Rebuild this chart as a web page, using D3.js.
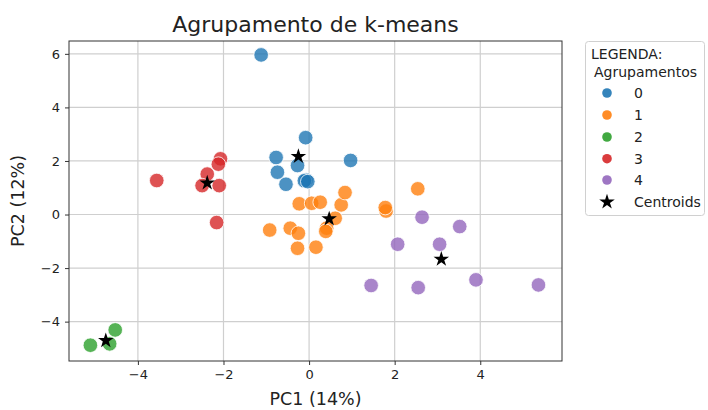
<!DOCTYPE html>
<html>
<head>
<meta charset="utf-8">
<script src="https://cdn.jsdelivr.net/npm/d3@7"></script>
<style>
  body { margin: 0; background: #fff; }
  svg { font-family: "DejaVu Sans", sans-serif; }
</style>
</head>
<body>
<svg id="chart" width="708" height="410"></svg>
<script>
// ---- data ----
const clusters = ["0", "1", "2", "3", "4"];
const colors = ["#1f77b4", "#ff7f0e", "#2ca02c", "#d62728", "#9467bd"];
const pc1 = [
  // cluster 0
  -1.12, -0.08, -0.77, -0.27, -0.74, -0.54, -0.07, -0.11, -0.03, 0.97,
  // cluster 1
  -0.23, 0.06, 0.26, 0.75, 0.84, 0.61, 0.41, 0.39, -0.92, -0.44, -0.25, -0.27, 0.16, 2.54, 1.80, 1.78,
  // cluster 2
  -5.11, -4.66, -4.53,
  // cluster 3
  -3.56, -2.07, -2.12, -2.38, -2.50, -2.10, -2.16,
  // cluster 4
  2.64, 3.52, 2.07, 3.05, 3.90, 1.45, 2.55, 5.36
];
const pc2 = [
  5.96, 2.87, 2.13, 1.83, 1.58, 1.13, 1.29, 1.26, 1.23, 2.02,
  0.40, 0.42, 0.46, 0.36, 0.82, -0.14, -0.51, -0.63, -0.58, -0.51, -0.70, -1.26, -1.22, 0.96, 0.13, 0.26,
  -4.88, -4.83, -4.31,
  1.27, 2.08, 1.88, 1.51, 1.08, 1.08, -0.30,
  -0.10, -0.45, -1.11, -1.11, -2.44, -2.65, -2.73, -2.63
];
const labels = [
  0,0,0,0,0,0,0,0,0,0,
  1,1,1,1,1,1,1,1,1,1,1,1,1,1,1,1,
  2,2,2,
  3,3,3,3,3,3,3,
  4,4,4,4,4,4,4,4
];
const centroidX = [-0.25, 0.47, -4.75, -2.38, 3.09];
const centroidY = [2.17, -0.16, -4.71, 1.18, -1.67];
const xTicks = [-4, -2, 0, 2, 4];
const yTicks = [-4, -2, 0, 2, 4, 6];

// ---- layout ----
const svg = d3.select("#chart");
const L = 69, R = 562, T = 41, B = 361;
const x = d3.scaleLinear().domain([-5.61, 5.91]).range([L, R]);
const y = d3.scaleLinear().domain([-5.47, 6.48]).range([B, T]);

// grid
const g = svg.append("g");
g.selectAll(".vg").data(xTicks).join("line")
  .attr("x1", d => x(d)).attr("x2", d => x(d)).attr("y1", T).attr("y2", B)
  .attr("stroke", "#cfcfcf").attr("stroke-width", 1.2);
g.selectAll(".hg").data(yTicks).join("line")
  .attr("y1", d => y(d)).attr("y2", d => y(d)).attr("x1", L).attr("x2", R)
  .attr("stroke", "#cfcfcf").attr("stroke-width", 1.2);

// axes
const fmt = d => (d < 0 ? "\u2212" + Math.abs(d) : String(d));
const xAxis = svg.append("g").attr("transform", `translate(0,${B})`)
  .call(d3.axisBottom(x).tickValues(xTicks).tickFormat(fmt).tickSizeOuter(0).tickSize(4).tickPadding(5));
const yAxis = svg.append("g").attr("transform", `translate(${L},0)`)
  .call(d3.axisLeft(y).tickValues(yTicks).tickFormat(fmt).tickSizeOuter(0).tickSize(4).tickPadding(5));
[xAxis, yAxis].forEach(a => {
  a.select(".domain").remove();
  a.selectAll("line").attr("stroke", "#333");
  a.selectAll("text").attr("font-family", "DejaVu Sans").attr("font-size", 13).attr("fill", "#222");
});

// points
const pts = pc1.map((v, i) => ({ x: v, y: pc2[i], c: labels[i] }));
svg.append("g").selectAll("circle").data(pts).join("circle")
  .attr("cx", d => x(d.x)).attr("cy", d => y(d.y)).attr("r", 7.3)
  .attr("fill", d => colors[d.c]).attr("fill-opacity", 0.8)
  .attr("stroke", "#fff").attr("stroke-width", 0.8);

// centroids
const star = d3.symbol().type(d3.symbolStar).size(75);
svg.append("g").selectAll("path").data(centroidX.map((v, i) => ({ x: v, y: centroidY[i] })))
  .join("path")
  .attr("d", star)
  .attr("transform", d => `translate(${x(d.x)},${y(d.y)})`)
  .attr("fill", "#000");

// frame
svg.append("rect").attr("x", L).attr("y", T).attr("width", R - L).attr("height", B - T)
  .attr("fill", "none").attr("stroke", "#333").attr("stroke-width", 1);

// title & labels
svg.append("text").attr("x", (L + R) / 2).attr("y", 32).attr("text-anchor", "middle")
  .attr("font-size", 22).attr("fill", "#222").text("Agrupamento de k-means");
svg.append("text").attr("x", (L + R) / 2).attr("y", 405).attr("text-anchor", "middle")
  .attr("font-size", 17.5).attr("fill", "#222").text("PC1 (14%)");
svg.append("text").attr("transform", `translate(24,${(T + B) / 2}) rotate(-90)`).attr("text-anchor", "middle")
  .attr("font-size", 17.5).attr("fill", "#222").text("PC2 (12%)");

// legend
const lg = svg.append("g");
lg.append("rect").attr("x", 585.5).attr("y", 41.5).attr("width", 119).attr("height", 174)
  .attr("rx", 3).attr("fill", "#fff").attr("stroke", "#d0d0d0");
lg.append("text").attr("x", 591).attr("y", 59).attr("font-size", 14).attr("fill", "#222").text("LEGENDA:");
lg.append("text").attr("x", 594).attr("y", 77).attr("font-size", 14).attr("fill", "#222").text("Agrupamentos");
const itemsY = [93, 115, 137, 158.7, 180];
clusters.forEach((c, i) => {
  lg.append("circle").attr("cx", 607).attr("cy", itemsY[i]).attr("r", 4.8)
    .attr("fill", colors[i]).attr("fill-opacity", 0.9);
  lg.append("text").attr("x", 634).attr("y", itemsY[i] + 5).attr("font-size", 14).attr("fill", "#222").text(c);
});
lg.append("path").attr("d", d3.symbol().type(d3.symbolStar).size(75))
  .attr("transform", "translate(607,202)").attr("fill", "#000");
lg.append("text").attr("x", 634).attr("y", 207).attr("font-size", 14).attr("fill", "#222").text("Centroids");
</script>
</body>
</html>
